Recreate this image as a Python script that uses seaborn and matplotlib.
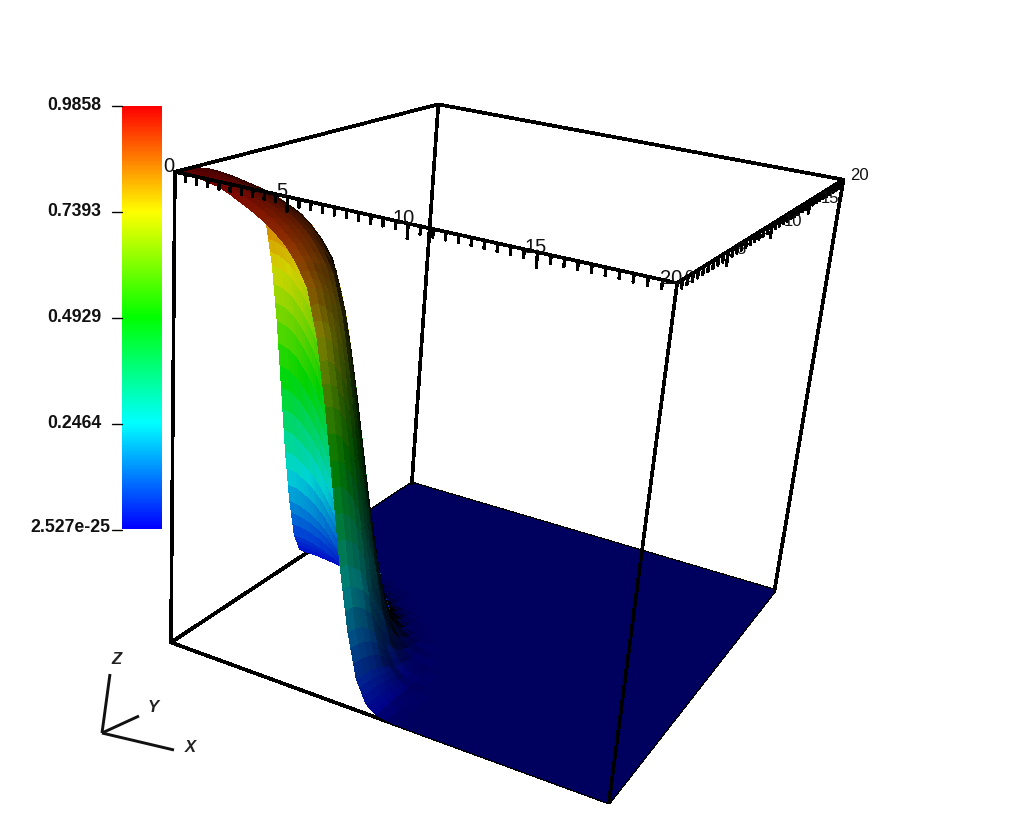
import numpy as np
import seaborn as sns
import matplotlib
matplotlib.use('Agg')
import matplotlib.pyplot as plt

# Heights on a 0.5 grid. The field mirrors across x = y, so
# row j only lists the cells i = j, j+1, ... up to where it reaches the floor.
upper_rows = [
    [.9858, .985, .984, .981, .976, .967, .956, .945, .932, .916, .897, .868, .828, .740, .611, .455, .296, .165, .069, .022, .005, .001],
    [.985, .983, .980, .975, .966, .955, .944, .931, .915, .896, .866, .824, .735, .605, .450, .292, .162, .068, .021, .005, .001],
    [.981, .978, .972, .963, .952, .941, .928, .912, .891, .861, .813, .721, .589, .434, .276, .153, .064, .020, .005, .001],
    [.974, .967, .958, .948, .937, .923, .907, .884, .852, .795, .696, .561, .407, .259, .140, .057, .018, .004, .001],
    [.960, .952, .942, .931, .917, .900, .875, .840, .771, .663, .524, .372, .232, .121, .048, .015, .003, .001],
    [.944, .935, .922, .908, .888, .861, .821, .740, .620, .475, .326, .196, .092, .037, .011, .002, .001],
    [.924, .912, .897, .873, .842, .781, .686, .561, .418, .275, .156, .068, .023, .006, .001],
    [.899, .879, .852, .810, .735, .625, .492, .351, .224, .121, .051, .017, .004, .001],
    [.856, .824, .757, .663, .545, .414, .280, .165, .080, .032, .010, .002, .001],
    [.764, .682, .578, .455, .326, .212, .114, .052, .018, .005, .001],
    [.589, .475, .356, .243, .146, .068, .028, .010, .003, .001],
    [.366, .259, .162, .084, .041, .015, .004, .001],
    [.169, .095, .048, .018, .005, .002, .001],
    [.051, .020, .007, .002, .001],
    [.008, .003, .001],
    [.001],
]
grid_step = 0.5
z_top = 0.9858
axis_max = 20
major_ticks = [0, 5, 10, 15, 20]
colorbar_labels = ['0.9858', '0.7393', '0.4929', '0.2464', '2.527e-25']
rainbow = ['#0000ff', '#00ffff', '#00ff00', '#ffff00', '#ff0000']

# Camera: where the box corners land in the picture
box_corners = [(0, 0, 1), (20, 0, 1), (20, 20, 1), (0, 20, 1),
               (0, 0, 0), (20, 0, 0), (20, 20, 0), (0, 20, 0)]
corner_pixels = [(175, 172), (678, 283), (843, 180), (438, 104),
                 (171, 642), (608, 803), (775, 590), (412, 484)]
light = np.array([0.45, -0.80, 0.37])

sns.set_theme(style='white')
plt.rcParams['font.family'] = ['Liberation Sans', 'DejaVu Sans']

W, H = 1024, 816
fig = plt.figure(figsize=(W / 100, H / 100), dpi=100, facecolor='white')
ax = fig.add_axes([0, 0, 1, 1], projection='3d', computed_zorder=False)
ax.set_axis_off()
ax.patch.set_alpha(0)
ax.set_xticks([])
ax.set_yticks([])
ax.set_zticks([])

cmap = sns.blend_palette(rainbow, n_colors=256, as_cmap=True)

# Surface
n = int(axis_max / grid_step) + 1
Z = np.zeros((n, n))
for j, row in enumerate(upper_rows):
    Z[j, j:j + len(row)] = row
    Z[j:j + len(row), j] = row
X, Y = np.meshgrid(np.arange(n) * grid_step, np.arange(n) * grid_step)

ax.apply_aspect()
to_view = ax.transData.inverted()
view_xy = to_view.transform([(px, H - py) for px, py in corner_pixels])
rows = []
for (wx, wy, wz), (u, v) in zip(box_corners, view_xy):
    p = [wx, wy, wz * z_top, 1]
    rows.append(p + [0, 0, 0, 0] + [-u * c for c in p])
    rows.append([0, 0, 0, 0] + p + [-v * c for c in p])
P = np.linalg.svd(np.array(rows))[2][-1].reshape(3, 4)
corner_w = P[2] @ np.array([[c[0], c[1], c[2] * z_top, 1] for c in box_corners]).T
P = P / corner_w.mean()
cam = np.linalg.svd(P)[2][-1]
cam = cam[:3] / cam[3]


def to_pixels(x, y, z):
    u, v, w = P @ np.array([x, y, z, 1])
    dx, dy = ax.transData.transform((u / w, v / w))
    return dx, H - dy


# Per face lighting, height stretched so the box is a cube
stretch = axis_max / z_top
dzdx = stretch * 0.5 * ((Z[:-1, 1:] - Z[:-1, :-1]) + (Z[1:, 1:] - Z[1:, :-1])) / grid_step
dzdy = stretch * 0.5 * ((Z[1:, :-1] - Z[:-1, :-1]) + (Z[1:, 1:] - Z[:-1, 1:])) / grid_step
normal = np.dstack([-dzdx, -dzdy, np.ones_like(dzdx)])
normal /= np.linalg.norm(normal, axis=2, keepdims=True)
mid_x = X[:-1, :-1] + grid_step / 2
mid_y = Y[:-1, :-1] + grid_step / 2
mid_z = 0.25 * (Z[:-1, :-1] + Z[:-1, 1:] + Z[1:, :-1] + Z[1:, 1:])
view = np.dstack([cam[0] - mid_x, cam[1] - mid_y, stretch * (cam[2] - mid_z)])
outside = (normal * view).sum(axis=2) > 0
lit = (normal * light).sum(axis=2)
shade = np.where(outside, np.clip(lit, 0.0, 1), 0.7 + 0.2 * np.abs(lit))

# Each cell is drawn as a few sub faces so the colour runs smoothly inside it
sub = 3
coarse = np.arange(n)
fine = np.linspace(0, n - 1, (n - 1) * sub + 1)
Zf = np.array([np.interp(fine, coarse, r) for r in Z])
Zf = np.array([np.interp(fine, coarse, c) for c in Zf.T]).T
Xf, Yf = np.meshgrid(fine * grid_step, fine * grid_step)
fine_mid = 0.25 * (Zf[:-1, :-1] + Zf[:-1, 1:] + Zf[1:, :-1] + Zf[1:, 1:])
rgba = cmap(fine_mid / z_top)
rgba[..., :3] *= np.repeat(np.repeat(shade, sub, axis=0), sub, axis=1)[..., None]
face_colors = np.ones(Zf.shape + (4,))
face_colors[:-1, :-1] = rgba

# Box edges on the floor sit half under the surface, everything else on top
m, t = axis_max, z_top
floor_edges = [((0, 0, 0), (0, m, 0)), ((0, 0, 0), (m, 0, 0)), ((m, 0, 0), (m, m, 0)), ((m, m, 0), (0, m, 0))]
for a, b in floor_edges:
    ax.plot(*zip(a, b), color='black', lw=1.9, zorder=1, antialiased=False)
ax.plot_surface(Xf, Yf, Zf, facecolors=face_colors, rstride=1, cstride=1, shade=False,
                linewidth=0, antialiased=False, zorder=2)
box_edges = [((0, 0, t), (m, 0, t)), ((m, 0, t), (m, m, t)), ((m, m, t), (0, m, t)),
             ((0, m, t), (0, 0, t)), ((0, 0, 0), (0, 0, t)), ((m, 0, 0), (m, 0, t)),
             ((m, m, 0), (m, m, t)), ((0, m, 0), (0, m, t))]
for a, b in box_edges:
    ax.plot(*zip(a, b), color='black', lw=1.9, zorder=3, antialiased=False)

# Ticks hang down from the two top edges, one every half unit
for k in range(2 * axis_max + 1):
    v = k / 2
    length = 0.026 if v % 5 == 0 else 0.014
    ax.plot([v, v], [0, 0], [t, t - length], color='black', lw=1.7, zorder=3, antialiased=False)
    ax.plot([m, m], [v, v], [t, t - length], color='black', lw=1.7, zorder=3, antialiased=False)

# Colour bar
cax = fig.add_axes([122 / W, 1 - 529 / H, 40 / W, 423 / H])
gradient = np.linspace(1, 0, 256).reshape(-1, 1)
sns.heatmap(gradient, ax=cax, cmap=cmap, vmin=0, vmax=1, cbar=False, xticklabels=False, yticklabels=False)

# Overlay in picture pixels for tick labels, colour bar ticks and the orientation triad
over = fig.add_axes([0, 0, 1, 1])
over.set_xlim(0, W)
over.set_ylim(H, 0)
over.set_xticks([])
over.set_yticks([])
over.axis('off')
over.patch.set_alpha(0)

x_label_shift = [(-6, -5), (-6, -5), (-4, -5), (-2, -5), (-6, -5)]
y_label_shift = [(12, -6), (13, -2), (21, -2), (20, -2), (16, -4)]
for v, xs, ys in zip(major_ticks, x_label_shift, y_label_shift):
    px, py = to_pixels(v, 0, t)
    over.text(px + xs[0], py + xs[1], str(v), fontsize=14.5, ha='center', va='center', color='#111111')
    px, py = to_pixels(m, v, t)
    over.text(px + ys[0], py + ys[1], str(v), fontsize=12, ha='center', va='center', color='#111111')

bar_y = [106, 212, 318, 424, 530]
text_y = [105, 212, 317, 423, 528]
for label, y, ty in zip(colorbar_labels, bar_y, text_y):
    over.plot([112, 122], [y, y], color='black', lw=1)
    over.text(70 if 'e' in label else 74, ty, label, fontsize=12.7, fontweight='bold', ha='center', va='center', color='#111111')
origin = (102, 733)
for end, name, pos in [((110, 674), 'Z', (116, 660)), ((139, 716), 'Y', (153, 707)), ((174, 750), 'X', (190, 747))]:
    over.plot([origin[0], end[0]], [origin[1], end[1]], color='#111111', lw=2.1, solid_capstyle='butt')
    over.text(pos[0], pos[1], name, fontsize=12, style='italic', fontweight='bold', ha='center', va='center', color='#222222')

M = np.array([P[0], P[1], [0, 0, 0, -1], P[2]])
ax.get_proj = lambda: M

fig.savefig('out.png', dpi=100, facecolor='white')
